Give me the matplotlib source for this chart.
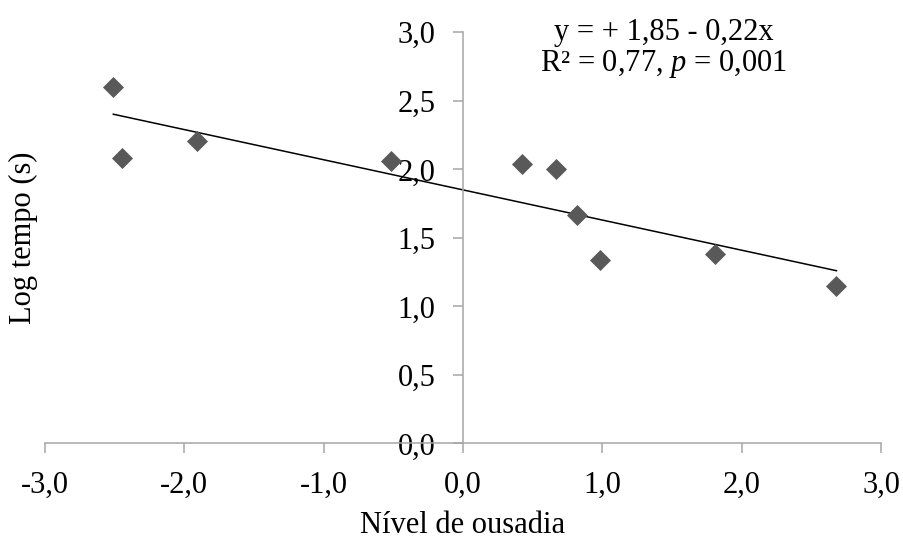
import matplotlib
matplotlib.use("Agg")
import matplotlib.pyplot as plt
import numpy as np

plt.rcParams['font.family'] = ['Liberation Serif', 'DejaVu Serif']
plt.rcParams['mathtext.fontset'] = 'custom'
plt.rcParams['mathtext.rm'] = 'Liberation Serif'
plt.rcParams['mathtext.it'] = 'Liberation Serif:italic'

# data
ousadia = [-2.51, -2.45, -1.91, -0.52, 0.42, 0.67, 0.82, 0.98, 1.81, 2.68]
log_tempo = [2.60, 2.08, 2.21, 2.06, 2.04, 2.00, 1.67, 1.34, 1.38, 1.15]
intercept = 1.85
slope = -0.22

x_ticks = [-3, -2, -1, 0, 1, 2, 3]
x_labels = ['-3,0', '-2,0', '-1,0', '0,0', '1,0', '2,0', '3,0']
y_ticks = [0, 0.5, 1, 1.5, 2, 2.5, 3]
y_labels = ['0,0', '0,5', '1,0', '1,5', '2,0', '2,5', '3,0']

fs = 22

fig = plt.figure(figsize=(9.04, 5.38), dpi=100)
ax = fig.add_axes([0.0498, 0.1757, 0.9248, 0.7643])

ax.scatter(ousadia, log_tempo, marker='D', s=115, color='#595959', zorder=3, linewidths=0)

xl = np.array([min(ousadia), max(ousadia)])
ax.plot(xl, intercept + slope * xl, color='black', lw=1.1, zorder=2)

ax.set_xlim(-3, 3)
ax.set_ylim(0, 3)

ax.spines['left'].set_position(('data', 0))
ax.spines['top'].set_visible(False)
ax.spines['right'].set_visible(False)
for s in ['left', 'bottom']:
    ax.spines[s].set_color('#a6a6a6')
    ax.spines[s].set_linewidth(1.1)

ax.set_xticks(x_ticks)
ax.set_xticklabels(x_labels)
ax.set_yticks(y_ticks)
ax.set_yticklabels(y_labels)
ax.tick_params(axis='both', colors='#a6a6a6', labelcolor='black', labelsize=fs,
               length=7, width=1.1, direction='out')
ax.tick_params(axis='y', pad=13)
ax.tick_params(axis='x', pad=13)

ax.set_xlabel('Nível de ousadia', fontsize=fs, va='baseline')
ax.set_ylabel('Log tempo (s)', fontsize=fs)
ax.xaxis.set_label_coords(0.5, -0.217)
ax.yaxis.set_label_coords(-0.008, 0.5)

ax.text(0.74, 1.0, 'y = + 1,85 - 0,22x', transform=ax.transAxes,
        ha='center', va='center', fontsize=fs)
ax.text(0.74, 0.923, r'R² = 0,77, $\it{p}$ = 0,001', transform=ax.transAxes,
        ha='center', va='center', fontsize=fs)

fig.savefig('out.png', dpi=100)
